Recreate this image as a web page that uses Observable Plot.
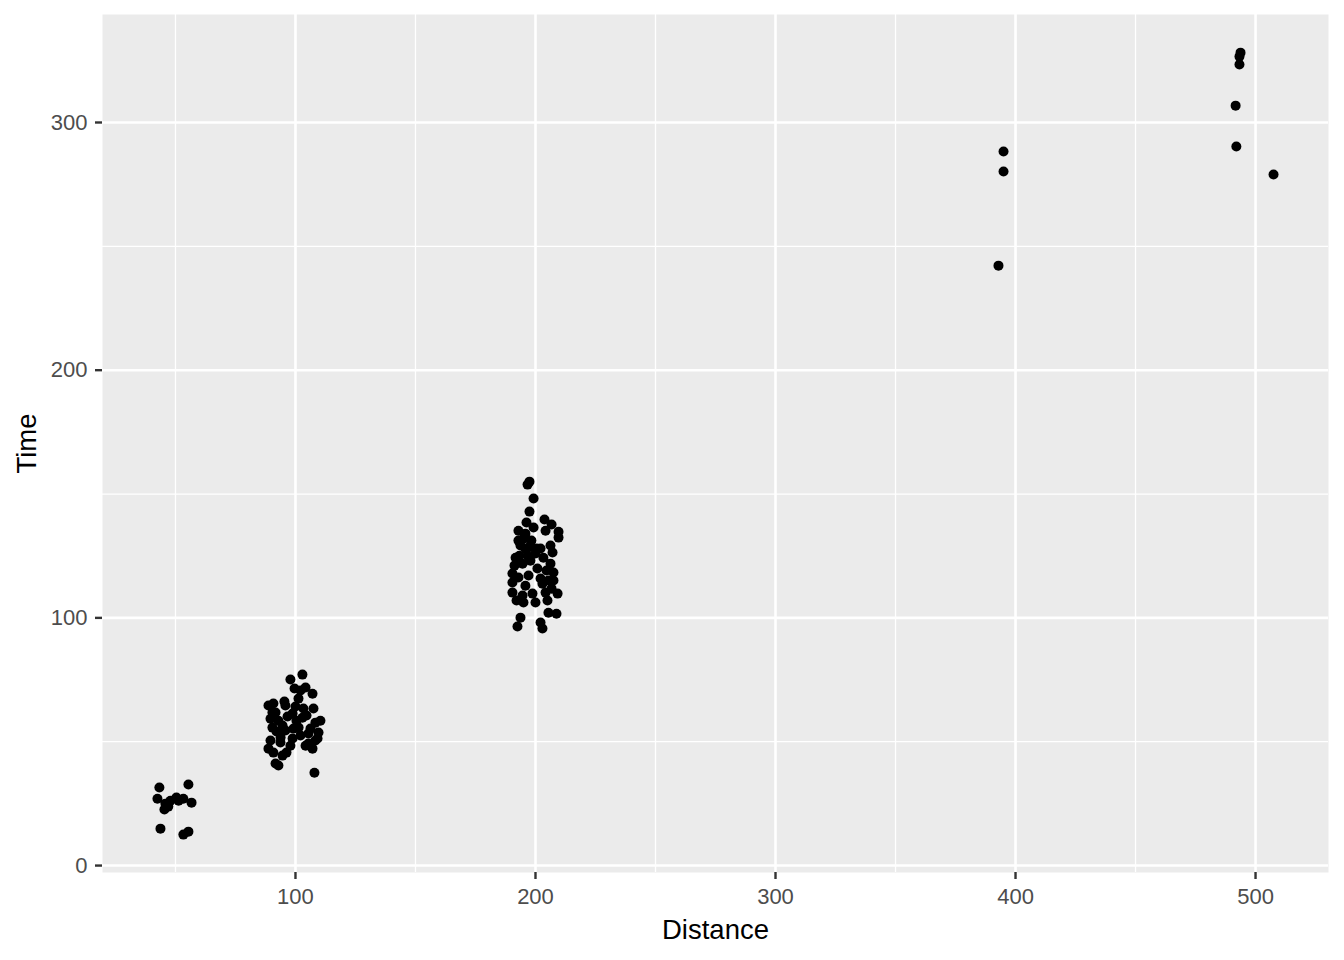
<!DOCTYPE html>
<html>
<head>
<meta charset="utf-8">
<script src="https://cdn.jsdelivr.net/npm/d3@7"></script>
<script src="https://cdn.jsdelivr.net/npm/@observablehq/plot@0.6"></script>
<style>
  html, body { margin: 0; padding: 0; background: #ffffff; }
  #chart svg { display: block; }
</style>
</head>
<body>
<div id="chart"></div>
<script>
// Distance / Time values
const distance50  = [43.3, 42.5, 55.4, 50.4, 47.9, 45.8, 45.4, 53.3, 56.7, 43.75, 53.3, 55.4, 51.3, 47.0];
const time50      = [31.5, 27.0, 32.7, 27.5, 26.2, 25.0, 22.6, 27.0, 25.4, 14.9, 12.5, 13.7, 26.2, 23.8];

const distance100 = [97.9, 102.9, 99.6, 104.2, 107.1, 90.8, 95.4, 91.7, 98.8, 103.3, 107.5, 102.9, 108.3, 90.4, 94.6, 101.3, 109.6, 105.4, 89.6, 93.8, 98.8, 105.4, 109.2, 90.8, 94.6, 91.7, 107.1, 107.9,
                     88.75, 89.6, 92.9, 96.7, 100.4, 102.1, 104.2, 106.25, 95.8, 97.9, 92.9, 95.8, 100.0, 92.1, 102.1, 96.25, 110.4, 88.75, 101.25, 104.6, 93.75, 90.4, 99.2, 108.3];
const time100     = [75.1, 77.1, 71.5, 71.9, 69.4, 65.4, 66.2, 61.8, 61.4, 63.4, 63.4, 59.7, 57.7, 55.7, 56.5, 55.7, 53.7, 53.3, 50.5, 51.7, 51.3, 49.3, 51.3, 45.6, 44.4, 41.2, 47.2, 37.5,
                     64.6, 59.3, 58.5, 60.2, 58.5, 70.7, 48.4, 55.3, 54.5, 48.4, 40.4, 64.6, 64.2, 54.1, 52.5, 45.6, 58.5, 47.2, 67.4, 60.6, 49.7, 61.8, 55.3, 50.5];

const distance200 = [196.7, 197.5, 199.2, 197.5, 196.25, 203.75, 206.7, 192.9, 199.2, 209.6, 195.8, 192.9, 209.6, 206.25, 197.1, 191.7, 200.0, 207.1, 194.6, 200.8, 206.25, 207.5, 190.4, 192.9, 207.5, 202.9, 190.4, 190.4, 194.6, 198.75, 204.2, 209.2, 195.0, 200.0, 205.0, 205.4, 208.75, 193.75, 192.5, 202.1, 202.9,
                     193.75, 195.0, 198.3, 202.1, 204.2, 193.3, 196.7, 195.8, 197.9, 204.6, 202.1, 205.4, 191.25, 197.1, 192.1, 195.8, 206.7, 200.4, 203.3];
const time200     = [153.8, 155.0, 148.2, 142.9, 138.5, 139.7, 137.7, 135.2, 136.5, 134.8, 134.0, 131.2, 132.4, 129.2, 128.4, 124.3, 126.0, 126.4, 121.9, 119.9, 121.9, 118.3, 117.9, 116.3, 115.1, 113.8, 114.3, 110.2, 109.0, 109.8, 110.2, 109.8, 106.2, 106.2, 107.0, 102.1, 101.7, 100.1, 96.5, 98.1, 95.7,
                     129.2, 132.0, 131.2, 128.0, 135.2, 125.1, 125.1, 127.9, 123.1, 119.1, 115.9, 115.1, 121.1, 117.1, 107.0, 113.0, 111.8, 128.0, 124.3];

const distance400 = [392.9, 395.0, 395.0];
const time400     = [242.2, 280.2, 288.3];

const distance500 = [493.75, 493.3, 493.3, 491.7, 492.0, 507.5];
const time500     = [328.2, 326.6, 323.4, 306.8, 290.3, 279.0];

const xTicks = [100, 200, 300, 400, 500];
const xMinor = [50, 150, 250, 350, 450];
const yTicks = [0, 100, 200, 300];
const yMinor = [50, 150, 250];
const xTitle = "Distance";
const yTitle = "Time";

const points = [];
[[distance50, time50], [distance100, time100], [distance200, time200], [distance400, time400], [distance500, time500]]
  .forEach(([xs, ys]) => xs.forEach((d, i) => points.push({Distance: d, Time: ys[i]})));

const font = "'Liberation Sans', Arial, sans-serif";

const chart = Plot.plot({
  width: 1344,
  height: 960,
  marginLeft: 102,
  marginRight: 16,
  marginTop: 14,
  marginBottom: 88,
  style: {fontFamily: font, background: "#ffffff"},
  x: {domain: [19.6, 530.4]},
  y: {domain: [-2.8, 343.6]},
  marks: [
    Plot.frame({fill: "#EBEBEB", stroke: "none"}),
    Plot.ruleX(xMinor, {stroke: "#ffffff", strokeWidth: 1.3}),
    Plot.ruleY(yMinor, {stroke: "#ffffff", strokeWidth: 1.3}),
    Plot.ruleX(xTicks, {stroke: "#ffffff", strokeWidth: 2.6}),
    Plot.ruleY(yTicks, {stroke: "#ffffff", strokeWidth: 2.6}),
    Plot.dot(points, {x: "Distance", y: "Time", r: 5, fill: "#000000", stroke: "none"}),
    // tick marks
    Plot.axisX({ticks: xTicks, tickSize: 7, tickFormat: () => "", stroke: "#333333", strokeWidth: 2.4, label: null}),
    Plot.axisY({ticks: yTicks, tickSize: 7, tickFormat: () => "", stroke: "#333333", strokeWidth: 2.4, label: null}),
    // tick labels
    Plot.axisX({ticks: xTicks, tickSize: 0, tickPadding: 16, fontSize: 22, fill: "#4D4D4D", label: null}),
    Plot.axisY({ticks: yTicks, tickSize: 0, tickPadding: 15, fontSize: 22, fill: "#4D4D4D", label: null}),
    // axis titles
    Plot.text([xTitle], {text: d => d, frameAnchor: "bottom", dy: 58, textAnchor: "middle", lineAnchor: "middle", fontSize: 27.5, fill: "#000000"}),
    Plot.text([yTitle], {text: d => d, frameAnchor: "left", dx: -75, rotate: -90, textAnchor: "middle", lineAnchor: "middle", fontSize: 27.5, fill: "#000000"})
  ]
});
document.getElementById("chart").appendChild(chart);
</script>
</body>
</html>
